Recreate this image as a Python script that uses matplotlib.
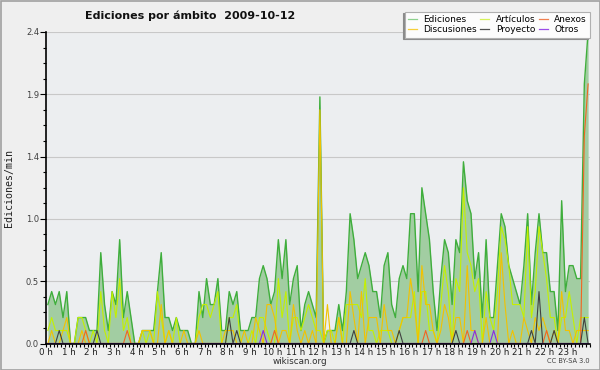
import matplotlib
matplotlib.use("Agg")
import matplotlib.pyplot as plt
import numpy as np
from matplotlib.patches import Rectangle
from matplotlib.lines import Line2D

# values in edits per minute x10, one value per 10-minute bin (144 bins)
ediciones = [3,4,3,4,2,4,0,0,2,2,2,1,1,1,7,3,1,4,3,8,2,4,2,0,
             0,1,1,1,1,4,7,2,2,1,2,1,1,1,0,0,4,2,5,3,3,5,1,1,
             4,3,4,1,1,1,2,2,5,6,5,3,4,8,5,8,3,5,6,1,3,4,3,2,
             19,0,1,1,1,3,1,4,10,8,5,6,7,6,4,4,2,6,7,3,2,5,6,5,
             10,10,4,12,10,8,4,1,5,8,7,3,8,7,14,11,10,5,7,2,8,2,2,6,
             10,9,6,5,4,3,6,10,3,7,10,7,7,4,4,1,11,4,6,6,5,5,20,24]
articulos = [1,2,1,1,1,1,0,0,2,2,1,0,1,0,4,1,0,4,2,5,1,2,0,0,
             0,1,0,1,0,4,2,0,1,0,2,0,0,0,0,0,2,3,3,2,3,4,0,0,
             2,2,3,0,0,0,1,0,2,2,1,0,0,5,2,4,0,2,2,1,2,3,2,1,
             1,0,1,1,0,2,0,3,3,3,3,2,5,1,1,0,1,1,1,0,0,1,2,2,
             2,4,0,4,4,1,1,0,3,6,4,0,5,4,12,7,6,4,5,0,4,2,1,4,
             9,8,6,3,3,3,2,9,2,4,9,7,5,2,2,0,2,2,4,2,0,2,2,2]
discusiones = [0,1,0,0,1,2,0,0,0,1,0,0,0,0,0,0,0,0,0,0,0,0,0,0,
               0,1,1,1,0,0,3,0,1,0,0,0,1,0,0,0,1,0,0,0,0,0,0,1,
               1,1,0,0,1,0,0,2,1,0,3,3,2,0,1,1,0,3,1,0,1,0,1,0,
               18,0,3,0,0,2,0,0,4,2,0,4,0,2,2,2,0,3,1,1,0,1,2,2,
               5,3,0,6,3,3,1,0,1,3,2,0,2,2,0,6,1,1,0,0,2,0,0,0,
               7,3,0,1,0,0,2,1,0,2,1,2,1,0,1,0,4,1,1,0,1,1,1,1]
anexos = [0]*144
for _i, _v in {10: 1, 21: 1, 60: 1, 100: 1, 111: 1, 132: 1, 142: 16, 143: 20}.items():
    anexos[_i] = _v
proyecto = [0]*144
for _i, _v in {3: 1, 13: 1, 48: 2, 50: 1, 81: 1, 93: 1, 108: 1, 128: 1, 130: 4, 134: 1, 142: 2}.items():
    proyecto[_i] = _v
otros = [0]*144
for _i, _v in {57: 1, 113: 1, 118: 1}.items():
    otros[_i] = _v

hour_labels = [f"{h} h" for h in range(24)]
ytick_vals = [0, 0.48, 0.96, 1.44, 1.92, 2.4]
ytick_labels = ["0.0", "0.5", "1.0", "1.4", "1.9", "2.4"]

def per_min(a):
    return np.array(a, dtype=float) / 10.0

x = np.arange(144) + 0.5

fig = plt.figure(figsize=(6, 3.7), dpi=100)
fig.patch.set_facecolor("#efefef")
ax = fig.add_axes([46/600, 1-343.5/370, 544/600, (343.5-32)/370])
ax.set_facecolor("#eceef0")

c_ed = "#3fae3c"
ax.fill_between(x, 0, per_min(ediciones), color="#a2cda2", lw=0, zorder=2)
ax.plot(x, per_min(ediciones), color=c_ed, lw=1.0, zorder=3)
series = [(articulos, "#c4f000"), (discusiones, "#f2c200"), (anexos, "#f26522"),
          (proyecto, "#404040"), (otros, "#8a2be2")]
for vals, col in series:
    ax.plot(x, per_min(vals), color=col, lw=0.8, zorder=4)

ax.set_xlim(0, 144)
ax.set_ylim(0, 2.4)
ax.set_yticks(ytick_vals)
ax.set_yticklabels(ytick_labels)
ax.set_yticks(np.arange(0, 2.41, 0.12), minor=True)
ax.set_xticks(np.arange(0, 144, 6))
ax.set_xticklabels(hour_labels)
ax.set_xticks(np.arange(0, 145, 1), minor=True)
ax.grid(axis="y", which="major", color="#c8c8c8", lw=0.8, zorder=1)
ax.tick_params(axis="y", which="major", direction="out", length=4, width=0.8,
               labelsize=6, labelcolor="#404040", pad=1)
ax.tick_params(axis="y", which="minor", direction="out", length=2.5, width=0.8)
ax.tick_params(axis="x", which="both", direction="out", length=2.5, width=0.8,
               labelsize=6.3, labelcolor="#202020", pad=1)
for s in ["top", "right"]:
    ax.spines[s].set_visible(False)
for s in ["left", "bottom"]:
    ax.spines[s].set_linewidth(1.2)
    ax.spines[s].set_zorder(6)

fig.text(9/600, 1-188/370, "Ediciones/min", rotation=90, ha="center", va="center",
         family="DejaVu Sans Mono", fontsize=7.2, color="#202020")
fig.text(85/600, 1-16/370, "Ediciones por ámbito  2009-10-12", ha="left", va="center",
         fontsize=8, fontweight="bold", color="#111111")
fig.text(300/600, 1-361/370, "wikiscan.org", ha="center", va="center", fontsize=6.3,
         color="#303030")
fig.text(590/600, 1-361/370, "CC BY-SA 3.0", ha="right", va="center", fontsize=4.8,
         color="#404040")

labels = ["Ediciones", "Discusiones", "Artículos", "Proyecto", "Anexos", "Otros"]
lcols = ["#8ed18e", "#f6cf3a", "#d6f25a", "#505050", "#f08050", "#9b4de8"]
handles = [Line2D([], [], color=c, lw=0.9) for c in lcols]
leg = fig.legend(handles, labels, ncol=3, loc="upper right",
                 bbox_to_anchor=(590/600, 1-11.5/370), bbox_transform=fig.transFigure,
                 fontsize=6.5, frameon=True, fancybox=False,
                 handlelength=1.0, handletextpad=0.7, columnspacing=0.4,
                 labelspacing=0.2, borderpad=0.35, borderaxespad=0,
                 shadow={"ox": -1.2, "oy": -1.2, "color": "#8a8a8a", "alpha": 1})
leg.get_frame().set_facecolor("#fcfcfc")
leg.get_frame().set_edgecolor("#b0b0b0")
leg.get_frame().set_linewidth(0.8)

fig.add_artist(Rectangle((0.5/600, 0.5/370), 599/600, 369/370, transform=fig.transFigure,
                         fill=False, edgecolor="#a0a0a0", lw=1.2))

fig.savefig("out.png", dpi=100, facecolor=fig.get_facecolor())
